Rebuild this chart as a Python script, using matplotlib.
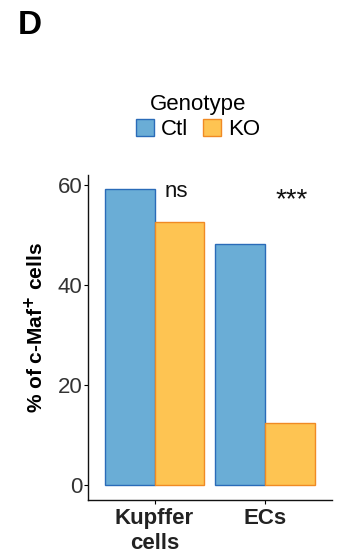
import matplotlib
matplotlib.use("Agg")
import matplotlib.pyplot as plt
import numpy as np

plt.rcParams['font.family'] = ['Liberation Sans', 'DejaVu Sans']

cell_types = ['Kupffer\ncells', 'ECs']
genotypes = ['Ctl', 'KO']
ctl_vals = [59.2, 48.2]
ko_vals = [52.7, 12.5]
signif = ['ns', '***']

fill_cols = {'Ctl': '#6aadd6', 'KO': '#fec452'}
edge_cols = {'Ctl': '#2a6bb8', 'KO': '#f08a24'}

fig = plt.figure(figsize=(3.4, 5.58), dpi=100)
ax = fig.add_axes([0.259, 0.104, 0.717, 0.582])

x = np.arange(1, len(cell_types) + 1)
w = 0.45
ax.bar(x - w / 2, ctl_vals, width=w, color=fill_cols['Ctl'], edgecolor=edge_cols['Ctl'],
       linewidth=1, label='Ctl')
ax.bar(x + w / 2, ko_vals, width=w, color=fill_cols['KO'], edgecolor=edge_cols['KO'],
       linewidth=1, label='KO')

for xi, s in zip(x, signif):
    if s == 'ns':
        ax.text(xi + 0.2, 58.8, s, ha='center', va='center', fontsize=16, color='#111111')
    else:
        ax.text(xi + 0.24, 57.0, s, ha='center', va='center', fontsize=20, color='#111111')

ax.set_xlim(0.4, 2.6)
ax.set_ylim(-3, 62)
ax.set_yticks([0, 20, 40, 60])
ax.set_xticks(x)
ax.set_xticklabels(cell_types, fontsize=16, fontweight='bold', color='#222222',
                   linespacing=1.2)
ax.tick_params(axis='y', labelsize=16, labelcolor='#333333', length=3, width=0.8, pad=1)
ax.tick_params(axis='x', length=3, width=0.8, pad=3)
for side in ['top', 'right']:
    ax.spines[side].set_visible(False)
for side in ['left', 'bottom']:
    ax.spines[side].set_linewidth(1.0)
    ax.spines[side].set_color('#111111')

ax.set_ylabel('% of c-Maf$^{\\mathbf{+}}$ cells', fontsize=15, fontweight='bold')
ax.yaxis.set_label_coords(-0.167, 0.53)

leg = fig.legend(loc='center', bbox_to_anchor=(198 / 340, 1 - 117 / 558), ncol=2,
                 title='Genotype', fontsize=16, title_fontsize=16, frameon=False,
                 handlelength=0.8, handleheight=0.8, handletextpad=0.3, columnspacing=0.7,
                 borderpad=0.2, labelspacing=0.2)

fig.text(18 / 340, 1 - 25 / 558, 'D', fontsize=24, fontweight='bold', va='center', ha='left')

fig.savefig('out.png', dpi=100)
